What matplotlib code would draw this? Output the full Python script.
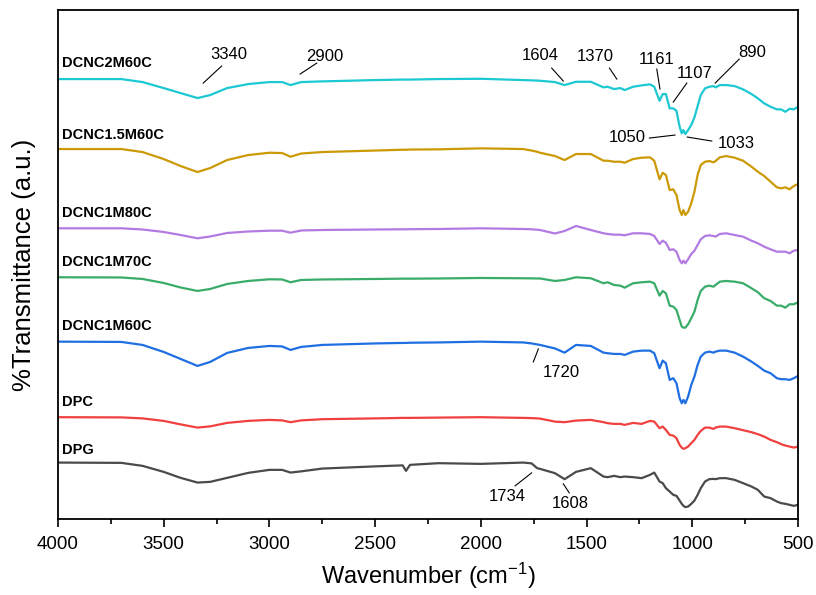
import matplotlib.pyplot as plt
from matplotlib.ticker import MultipleLocator

plt.rcParams['font.family'] = ['Liberation Sans', 'DejaVu Sans']
plt.rcParams['mathtext.default'] = 'regular'

# wavenumber grid (cm-1) shared by all spectra
wavenumber = [4000, 3700, 3600, 3500, 3420, 3340, 3280, 3200, 3100, 3000,
              2940, 2900, 2850, 2750, 2500, 2370, 2354, 2335, 2200, 2000,
              1800, 1760, 1734, 1720, 1650, 1604, 1550, 1480, 1420, 1400,
              1370, 1340, 1320, 1280, 1240, 1200, 1180, 1155, 1140, 1125,
              1107, 1090, 1075, 1060, 1050, 1042, 1033, 1020, 1005, 990,
              975, 960, 940, 920, 900, 890, 870, 840, 800, 760,
              720, 690, 660, 630, 600, 580, 560, 540, 520, 500]

# stacked transmittance (a.u., already offset)
dcnc2m60c = [441, 441, 438, 432, 427, 422, 425, 432, 436, 438,
             438, 435, 438, 438.7, 440, 440.5, 440.5, 440.5, 441, 441.3,
             440, 439.7, 439.5, 439.3, 438, 435, 438.3, 438.3, 432.7, 433.3,
             431, 432, 430, 433.3, 434.7, 435.7, 433.3, 419.3, 426, 426,
             411.7, 411.7, 409.3, 393.3, 386.7, 390, 386, 390, 395, 402.7,
             414, 425, 431.7, 433.3, 434, 432.7, 435, 435, 434, 430.7,
             426, 421.7, 416.7, 413.3, 410.7, 410.7, 408.3, 411.3, 410.7, 413.3]
dcnc15m60c = [371, 371, 368, 361, 354, 348, 352, 360, 365, 367.3,
              367, 363.3, 366.5, 368, 369.5, 370.3, 370.3, 370.5, 370.7, 371.7,
              371, 369.5, 368.3, 367.3, 364, 360, 366, 366, 359.3, 359.3,
              358.3, 358.3, 357.3, 361, 362.3, 362.7, 359.3, 340.7, 347.3, 345,
              330, 330.7, 325, 310, 305, 310, 305, 308.3, 316.7, 328.3,
              345, 355, 358.3, 359, 357.7, 359, 362.7, 364, 362.3, 359.3,
              353.3, 348.3, 344, 338.3, 332.7, 331.7, 332.7, 330.7, 334, 336]
dcnc1m80c = [291.7, 291.7, 290.5, 288, 285, 281.7, 283.5, 287, 288.5, 289.3,
             289.3, 287.3, 289.5, 290, 290.5, 290.7, 290.7, 290.8, 291, 291.7,
             291, 290.7, 290.3, 290, 286.5, 289, 294, 290, 286.7, 286,
             285.3, 285.3, 284.7, 286.7, 286.7, 286, 284, 276, 279.3, 277.3,
             270, 270.7, 268.3, 260, 256.7, 259.3, 256.7, 260.7, 266, 269.3,
             275, 280.7, 284, 284.7, 284, 283.3, 286, 286.7, 285, 283.3,
             279.3, 276.7, 273.3, 270.7, 268.3, 268.3, 268.3, 266.7, 269.3, 270]
dcnc1m70c = [242.7, 242.5, 241, 237, 232.5, 229, 231, 236, 239, 240.7,
             240.5, 237.7, 240, 240.5, 241, 241.3, 241.3, 241.3, 241.5, 242,
             241.7, 241.6, 241.5, 241.5, 239, 240, 242.7, 241.7, 236.7, 237.7,
             235, 234.3, 232.3, 236.7, 237.7, 238.3, 236.7, 224.3, 229, 226.7,
             214.3, 213.3, 210, 200, 193.3, 192.3, 192.3, 195.7, 201.7, 208.3,
             220, 229, 233.3, 234.3, 233.3, 235, 238.3, 239, 238.3, 236.7,
             231.7, 227.7, 221.7, 219, 214.3, 214.3, 212.3, 215.7, 215.7, 217.7]
dcnc1m60c = [178.3, 178, 175, 168, 161, 154, 158, 167, 172, 174,
             173.5, 170, 173, 175, 176.5, 177, 177, 177.2, 177.5, 178.3,
             177.5, 176.5, 175.5, 175, 171.5, 167.3, 175, 174, 167.3, 166.7,
             166, 166, 165, 168.3, 169.3, 169.3, 166.7, 151.7, 159.3, 156.7,
             140, 141.7, 136.7, 121.7, 116.7, 120, 116.7, 123.3, 135, 143.3,
             155, 163.3, 167.3, 168.3, 167.3, 168.3, 169.3, 169.3, 167.3, 163.3,
             158.3, 154, 149.3, 146.7, 141.7, 140.7, 140.7, 140, 141.7, 144]
dpc = [102.7, 102.5, 101.5, 99, 95.5, 92.3, 93.5, 97, 99, 100,
       99.5, 97.7, 99.5, 100.7, 101.5, 102, 102, 102, 102.3, 102.7,
       102, 101.8, 101.5, 101.3, 98.3, 97.7, 99.3, 100, 97.7, 96.7,
       96, 96, 95, 97, 96, 99, 98.3, 91.7, 93.3, 90,
       85, 84.3, 81.7, 75, 72.3, 71, 71.7, 73.3, 76.7, 80,
       85, 89, 92.3, 92.3, 91, 92.3, 93.3, 93.3, 91.7, 89.7,
       87.7, 85.7, 83.3, 80, 77.7, 75.7, 74.3, 73.3, 72.3, 73.3]
dpg = [57.3, 57, 54, 48, 42, 37.3, 38, 42, 47, 50,
       50, 47.3, 48.5, 51.3, 53.5, 54.5, 49, 55, 56.7, 56,
       57.3, 56.5, 51.7, 51, 46.7, 40.7, 48, 51.7, 43.3, 42.7,
       44, 42.7, 43.3, 42.7, 41.7, 45, 47.3, 38.3, 36.7, 31.7,
       28.3, 25, 24, 19.3, 16, 14, 12.7, 13.3, 16, 19.3,
       25, 31.7, 38.3, 40.7, 41, 40.7, 41.7, 41.7, 40, 36.7,
       33.3, 30, 23.3, 21.7, 18.3, 16.7, 16, 15, 14, 15]

samples = ['DCNC2M60C', 'DCNC1.5M60C', 'DCNC1M80C', 'DCNC1M70C', 'DCNC1M60C', 'DPC', 'DPG']
spectra = [dcnc2m60c, dcnc15m60c, dcnc1m80c, dcnc1m70c, dcnc1m60c, dpc, dpg]
colors = ['#1cc8d2', '#cc9a06', '#b37be2', '#3aac6a', '#1f6fe2', '#f0403f', '#4a4a4a']
label_y = [457, 385, 307, 258, 194, 118, 70]

# peak labels: text, text position, tick line (start, end)
peaks = [
    ('3340', (3193, 466), (3226, 454), (3313, 437)),
    ('2900', (2740, 464), (2776, 457), (2855, 446)),
    ('1604', (1720, 465), (1665, 452), (1610, 439)),
    ('1370', (1457, 464), (1392, 452), (1357, 441)),
    ('1161', (1168, 461), (1168, 451), (1153, 431)),
    ('1107', (987, 447), (1026, 437), (1090, 418)),
    ('890', (719, 468), (778, 461), (892, 437)),
    ('1050', (1310, 383), (1203, 382), (1082, 385)),
    ('1033', (793, 377), (1024, 383), (908, 379)),
    ('1720', (1621, 147), (1728, 171), (1752, 158)),
    ('1734', (1875, 23), (1760, 47), (1838, 34)),
    ('1608', (1575, 16), (1610, 36), (1582, 27)),
]

fig = plt.figure(figsize=(8.16, 5.95), dpi=100)
ax = fig.add_axes([0.071, 0.128, 0.907, 0.855])

for name, y, c, ly in zip(samples, spectra, colors, label_y):
    ax.plot(wavenumber, y, color=c, linewidth=1.6)
    ax.text(3982, ly, name, fontsize=10.5, fontweight='bold', ha='left', va='center')

for txt, tpos, p0, p1 in peaks:
    ax.plot([p0[0], p1[0]], [p0[1], p1[1]], color='black', linewidth=0.8)
    ax.text(tpos[0], tpos[1], txt, fontsize=12, ha='center', va='center')

ax.set_xlim(4000, 500)
ax.set_ylim(1, 510)
ax.xaxis.set_major_locator(MultipleLocator(500))
ax.xaxis.set_minor_locator(MultipleLocator(250))
ax.tick_params(axis='x', which='major', direction='out', length=6, width=1.2, labelsize=13.5, pad=6)
ax.tick_params(axis='x', which='minor', direction='out', length=3.5, width=1.2)
ax.set_yticks([])
for s in ax.spines.values():
    s.set_linewidth(1.3)

ax.set_xlabel('Wavenumber (cm$^{-1}$)', fontsize=17, labelpad=6)
ax.set_ylabel('%Transmittance (a.u.)', fontsize=18.5, labelpad=16)

plt.savefig('out.png', dpi=100)
